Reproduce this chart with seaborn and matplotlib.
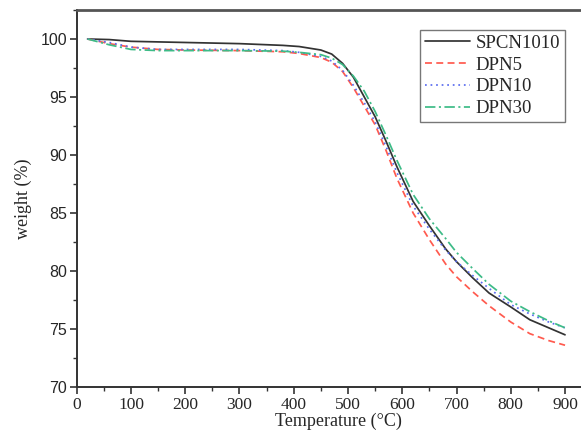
import numpy as np
import pandas as pd
import matplotlib
matplotlib.use("Agg")
import matplotlib.pyplot as plt
import seaborn as sns
from matplotlib.ticker import MultipleLocator

T = [20, 60, 100, 150, 200, 300, 380, 410, 450, 470, 490, 510, 530, 550, 570, 590,
     620, 650, 680, 700, 730, 760, 800, 835, 870, 900]
spcn1010 = [100, 99.95, 99.8, 99.75, 99.7, 99.6, 99.45, 99.35, 99.05, 98.7, 97.9, 96.7, 95.0,
            93.3, 91.2, 89.0, 86.0, 83.9, 81.9, 80.8, 79.4, 78.1, 76.9, 75.8, 75.1, 74.5]
dpn5 = [100, 99.6, 99.3, 99.1, 99.05, 99.0, 98.9, 98.75, 98.4, 98.0, 97.2, 95.8, 94.2,
        92.6, 90.4, 88.0, 85.0, 82.7, 80.6, 79.5, 78.2, 77.0, 75.6, 74.6, 74.0, 73.6]
dpn10 = [100, 99.7, 99.3, 99.1, 99.1, 99.1, 99.0, 98.85, 98.5, 98.1, 97.3, 96.0, 94.5,
         92.85, 90.75, 88.5, 85.6, 83.6, 81.8, 80.8, 79.6, 78.5, 77.1, 76.3, 75.6, 75.1]
dpn30 = [100, 99.5, 99.1, 99.0, 99.0, 99.0, 98.95, 98.85, 98.65, 98.35, 97.8, 96.8, 95.5,
         93.75, 91.7, 89.55, 86.6, 84.5, 82.8, 81.6, 80.2, 78.85, 77.4, 76.5, 75.7, 75.1]

labels = ["SPCN1010", "DPN5", "DPN10", "DPN30"]
series = [spcn1010, dpn5, dpn10, dpn30]
colors = ["#333333", "#ff5a4e", "#5a6cf0", "#3dbb87"]
styles = ["-", (0, (4, 2.5)), (0, (1, 2.2)), (0, (6, 2, 1.2, 2))]

sns.set_style("ticks")

fig = plt.figure(figsize=(5.81, 4.32), dpi=100)
ax = fig.add_axes([76.7 / 581, 1 - 387 / 432, (600 - 76.7) / 581, (387 - 10) / 432])

for lab, ys, c, ls in zip(labels, series, colors, styles):
    df = pd.DataFrame({"T": T, "w": ys})
    sns.lineplot(data=df, x="T", y="w", ax=ax, color=c, linestyle=ls, lw=1.25, label=lab)

ax.set_xlim(0, (600 - 76.7) / 0.5426)
ax.set_ylim(70, 102.5)
ax.xaxis.set_minor_locator(MultipleLocator(50))
ax.yaxis.set_minor_locator(MultipleLocator(2.5))
xt = list(range(0, 1000, 100))
ax.set_xticks(xt)
ax.set_xticklabels([str(v) for v in xt], family="Liberation Serif", fontsize=12.5)
yt = [70, 75, 80, 85, 90, 95, 100]
ax.set_yticks(yt)
ax.set_yticklabels([str(v) for v in yt], family="Liberation Sans", fontsize=11.5)
ax.tick_params(which="major", direction="out", length=5, width=1.2, color="#333333", pad=2)
ax.tick_params(which="minor", direction="out", length=3, width=1.0, color="#333333")
ax.set_xlabel("Temperature (°C)", family="Liberation Serif", fontsize=13, labelpad=0)
ax.set_ylabel("weight (%)", family="Liberation Serif", fontsize=13, labelpad=6)

ax.spines["right"].set_visible(False)
ax.spines["top"].set_color("#555555")
ax.spines["top"].set_linewidth(2)
for s in ["left", "bottom"]:
    ax.spines[s].set_color("#333333")
    ax.spines[s].set_linewidth(1.4)

leg = ax.legend(loc="upper left", bbox_to_anchor=((420 - 76.7) / 523.3, 1 - 20 / 377),
                prop={"family": "Liberation Serif", "size": 13.5}, frameon=True, fancybox=False,
                edgecolor="#555555", handlelength=2.4, handletextpad=0.3, borderpad=0.25,
                labelspacing=0.25, borderaxespad=0)
leg.get_frame().set_linewidth(1.0)

fig.savefig("out.png", dpi=100)
